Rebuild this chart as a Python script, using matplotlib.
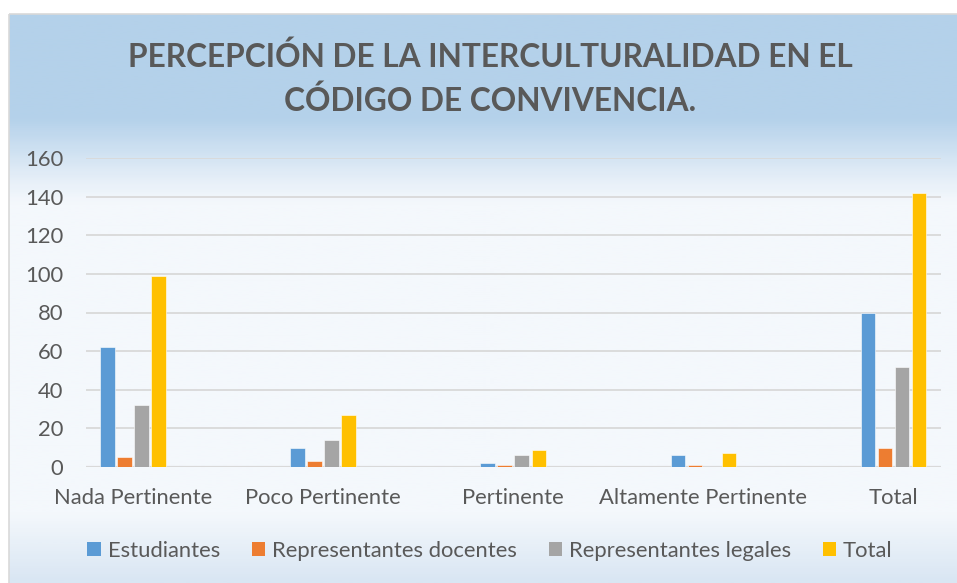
import matplotlib.pyplot as plt
import numpy as np
from matplotlib.colors import LinearSegmentedColormap
from matplotlib.patches import Rectangle, Patch

# categorías y series
categorias = ['Nada Pertinente', 'Poco Pertinente', 'Pertinente',
              'Altamente Pertinente', 'Total']
estudiantes = [62, 10, 2, 6, 80]
docentes = [5, 3, 1, 1, 10]
legales = [32, 14, 6, 0, 52]
total = [99, 27, 9, 7, 142]
series_names = ['Estudiantes', 'Representantes docentes',
                'Representantes legales', 'Total']
y_ticks = [0, 20, 40, 60, 80, 100, 120, 140, 160]

colores = ['#5B9BD5', '#ED7D31', '#A5A5A5', '#FFC000']
txt = '#595959'
W, H = 957, 583

plt.rcParams['font.family'] = ['Lato', 'DejaVu Sans']

fig = plt.figure(figsize=(W / 100, H / 100), dpi=100)
fig.patch.set_facecolor('white')

# fondo con degradado (marco del gráfico)
bg = fig.add_axes([0, 0, 1, 1], zorder=0)
bg.set_xlim(0, W)
bg.set_ylim(H, 0)
bg.axis('off')
grad = LinearSegmentedColormap.from_list('g', [
    (0.0, '#B4D1EA'), (0.18, '#B4D1EA'), (0.29, '#E6EFF8'),
    (0.33, '#F4F8FC'), (0.88, '#F4F8FC'), (1.0, '#D9E6F3')])
gy = np.linspace(0, 1, 300).reshape(-1, 1)
bg.imshow(gy, cmap=grad, aspect='auto', extent=(9, W, H, 14), zorder=0)
bg.add_patch(Rectangle((9, 14), W, H, fill=False, edgecolor='#D9D9D9', lw=1.2, zorder=1))

ax = fig.add_axes([86 / W, 1 - 467 / H, (941 - 86) / W, (467 - 158) / H], zorder=2)
ax.patch.set_alpha(0)

x = np.arange(len(categorias))
step = 0.0895
bw = 0.076
for i, (vals, c, name) in enumerate(zip([estudiantes, docentes, legales, total], colores, series_names)):
    ax.bar(x + (i - 1.5) * step, vals, width=bw, color=c, edgecolor='white',
           linewidth=0.4, zorder=3, label=name)

ax.set_xlim(-0.247, 4.25)
ax.set_ylim(0, 160)
ax.set_yticks(y_ticks)
ax.grid(axis='y', color='#D9D9D9', linewidth=1.3, zorder=1)
ax.axhline(0, color='#D9D9D9', linewidth=1.6, zorder=2)
for s in ax.spines.values():
    s.set_visible(False)
ax.set_xticks(x)
ax.set_xticklabels(categorias)
ax.tick_params(axis='both', length=0, colors=txt, labelsize=15.8)
ax.tick_params(axis='x', pad=15)
ax.tick_params(axis='y', pad=16.5)

fig.text(490 / W, 1 - 57 / H, 'PERCEPCIÓN DE LA INTERCULTURALIDAD EN EL',
         ha='center', va='center', fontsize=22.8, fontweight='bold', color=txt)
fig.text(490 / W, 1 - 101 / H, 'CÓDIGO DE CONVIVENCIA.',
         ha='center', va='center', fontsize=22.8, fontweight='bold', color=txt)

handles = [Patch(facecolor=c, edgecolor='none') for c in colores]
fig.legend(handles, series_names, loc='center', bbox_to_anchor=(490 / W, 1 - 551 / H),
           ncol=4, frameon=False, fontsize=15.8, labelcolor=txt,
           handlelength=0.62, handleheight=0.62, handletextpad=0.3, columnspacing=1.45)

fig.savefig('out.png', dpi=100, facecolor='white')
